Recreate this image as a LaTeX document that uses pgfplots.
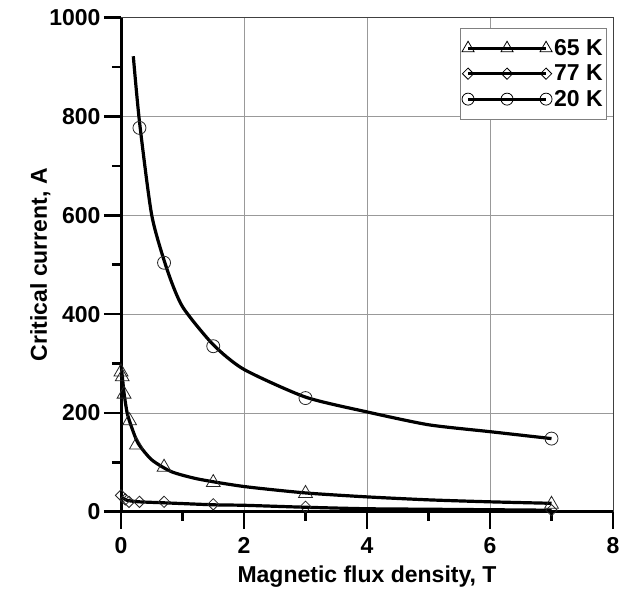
\documentclass[border=0pt]{standalone}
\usepackage{fontspec}
\setmainfont{Liberation Sans}
\usepackage{pgfplots}
\pgfplotsset{compat=1.18}

\newcommand{\bigb}{\fontsize{23}{26}\selectfont\bfseries}

\begin{document}
\begin{tikzpicture}
\begin{axis}[
    name=ax,
    scale only axis,
    width=492pt, height=494pt,
    xmin=0, xmax=8, ymin=0, ymax=1000,
    xtick={0,2,4,6,8}, ytick={0,200,400,600,800,1000},
    minor x tick num=1, minor y tick num=1,
    tick align=outside,
    xtick pos=left, ytick pos=left,
    major tick length=17pt, minor tick length=9pt,
    tick style={black, line width=2.6pt},
    grid=major,
    major grid style={gray!80, line width=0.8pt},
    axis line style={draw=black!75, line width=0.9pt},
    tick label style={font=\bigb},
    xticklabel style={yshift=-5pt},
    /pgf/number format/assume math mode=true,
    /pgf/number format/1000 sep={},
    label style={font=\bigb},
    xlabel={Magnetic flux density, T},
    ylabel={Critical current, A},
    xlabel style={at={(axis description cs:0.5,-0.1443)}, anchor=base},
    ylabel style={at={(axis description cs:-0.1504,0.5)}, anchor=base},
    clip=false,
    legend image code/.code={\draw[#1] plot coordinates {(0pt,0pt) (39pt,0pt) (78pt,0pt)};},
    legend style={at={(axis description cs:0.988,0.979)}, anchor=north east,
        draw=gray, line width=0.8pt, font=\bigb, /tikz/row sep=4pt,
        inner xsep=2pt, inner ysep=9pt},
    legend cell align=left,
]
% legend entries
\addlegendimage{black, line width=3.2pt, mark=triangle, mark size=7pt, mark options={line width=0.8pt, solid}}
\addlegendentry{65 K}
\addlegendimage{black, line width=3.2pt, mark=square, mark size=4pt, mark options={line width=0.8pt, rotate=45, solid}}
\addlegendentry{77 K}
\addlegendimage{black, line width=3.2pt, mark=o, mark size=6pt, mark options={line width=0.8pt, solid}}
\addlegendentry{20 K}

% fitted curves
\addplot[black, line width=3.2pt, smooth, tension=0.4, forget plot] coordinates {
    (0.2,922) (0.3,790) (0.5,600) (0.75,490) (1,415) (1.5,338) (2,288) (3,232) (4,202) (5,176) (6,162) (7,148)
};
\addplot[black, line width=3.2pt, smooth, tension=0.4, forget plot] coordinates {
    (0,300) (0.05,240) (0.1,200) (0.17,172) (0.28,138) (0.5,105) (0.82,81) (1.26,66) (2,51) (3,38) (4,30) (5,24) (6,20) (7,17)
};
\addplot[black, line width=3.2pt, smooth, tension=0.4, forget plot] coordinates {
    (0,30) (0.1,23) (0.3,20) (0.7,18) (1.5,14) (2,13) (3,9) (4,6) (5,5) (6,4) (7,3)
};

% measured points
\addplot[only marks, mark=triangle, mark size=8pt, mark options={black!85, line width=0.8pt}, forget plot] coordinates {
    (0,283) (0.02,273) (0.05,238) (0.14,184) (0.25,135) (0.7,90) (1.5,59) (3,37) (7,15)
};
\addplot[only marks, mark=square, mark size=4pt, mark options={black!85, line width=0.8pt, rotate=45}, forget plot] coordinates {
    (0,33) (0.07,25) (0.13,20) (0.3,20) (0.7,20) (1.5,15) (3,10) (7,3)
};
\addplot[only marks, mark=o, mark size=6.5pt, mark options={black!85, line width=0.8pt}, forget plot] coordinates {
    (0.3,777) (0.7,504) (1.5,335) (3,230) (7,148)
};

% heavy left and bottom axis lines
\draw[black, line width=3pt] (rel axis cs:0,0) -- (rel axis cs:0,1);
\draw[black, line width=3pt] (rel axis cs:0,0) -- (rel axis cs:1,0);
\end{axis}
\path ([xshift=-121pt,yshift=-75.3pt]ax.south west) rectangle ([xshift=10pt,yshift=17.7pt]ax.north east);
\end{tikzpicture}
\end{document}
